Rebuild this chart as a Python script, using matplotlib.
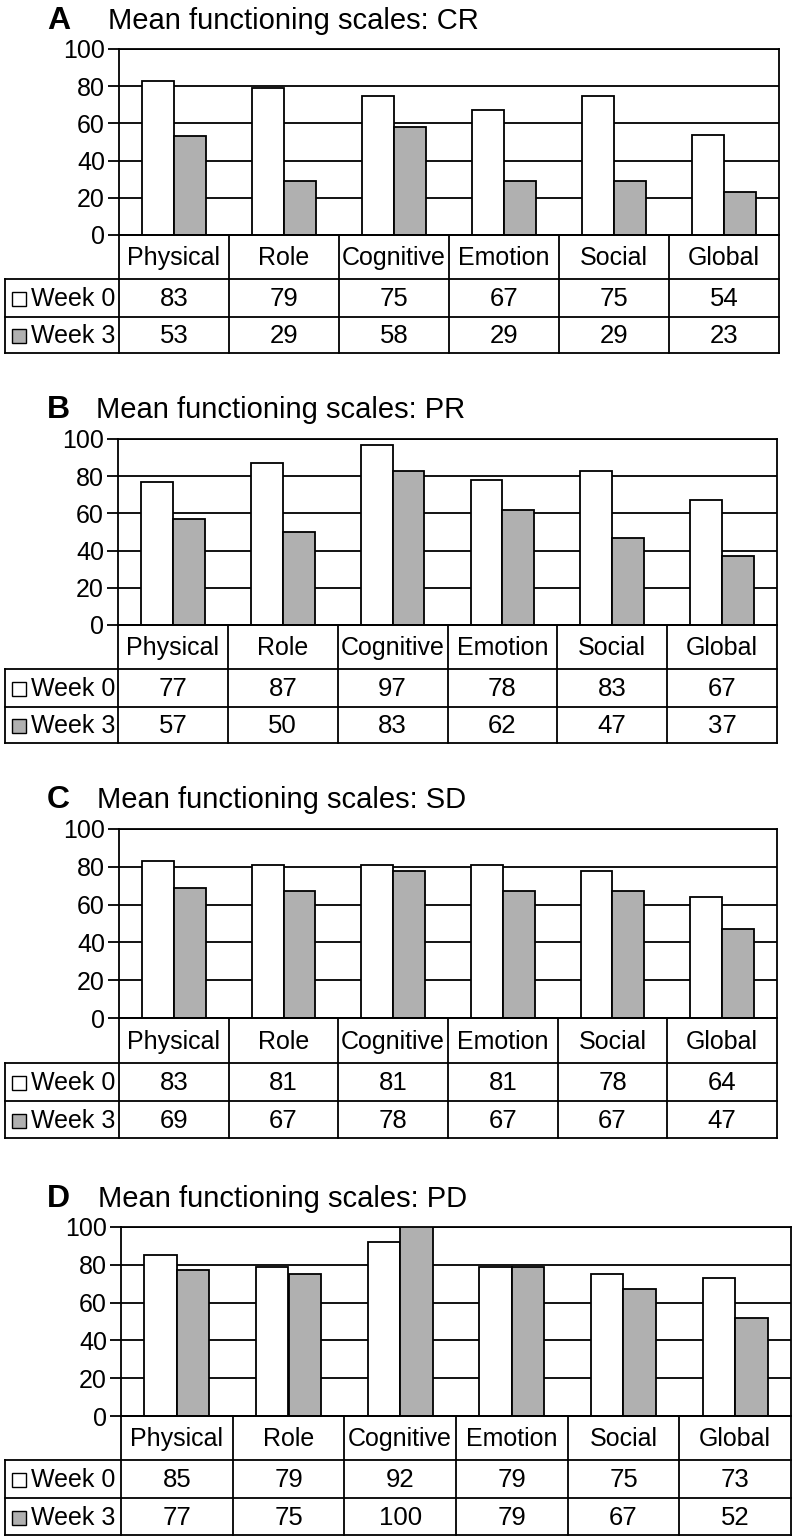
import matplotlib
matplotlib.use("Agg")
import matplotlib.pyplot as plt
import numpy as np
from matplotlib.patches import Rectangle

plt.rcParams['font.family'] = ['Liberation Sans', 'DejaVu Sans']

categories = ["Physical", "Role", "Cognitive", "Emotion", "Social", "Global"]
series_names = ["Week 0", "Week 3"]
panel_letters = ["A", "B", "C", "D"]
panel_titles = ["Mean functioning scales: CR", "Mean functioning scales: PR",
                "Mean functioning scales: SD", "Mean functioning scales: PD"]
cr_week0 = [83, 79, 75, 67, 75, 54]
cr_week3 = [53, 29, 58, 29, 29, 23]
pr_week0 = [77, 87, 97, 78, 83, 67]
pr_week3 = [57, 50, 83, 62, 47, 37]
sd_week0 = [83, 81, 81, 81, 78, 64]
sd_week3 = [69, 67, 78, 67, 67, 47]
pd_week0 = [85, 79, 92, 79, 75, 73]
pd_week3 = [77, 75, 100, 79, 67, 52]
yticks = [0, 20, 40, 60, 80, 100]

W, H = 794, 1539
fig = plt.figure(figsize=(W / 100, H / 100), dpi=100)

layouts = [
    dict(l=119, r=779, t=49, b=235, rows=[235, 279, 317, 353], ty=21, tx=108),
    dict(l=118, r=777, t=439, b=625, rows=[625, 669, 707, 743], ty=410, tx=96),
    dict(l=119, r=777, t=829, b=1018, rows=[1018, 1063, 1101, 1138], ty=800, tx=97),
    dict(l=121, r=791, t=1227, b=1416, rows=[1416, 1460, 1498, 1535], ty=1199, tx=98),
]
data = [(cr_week0, cr_week3), (pr_week0, pr_week3), (sd_week0, sd_week3), (pd_week0, pd_week3)]

LW = 1.3
GRAY = '#b0b0b0'
table_left = 5
TFS = 18

def fx(px):
    return px / W

def fy(py):
    return 1 - py / H

for k, (lay, (w0, w3)) in enumerate(zip(layouts, data)):
    l, r, t, b = lay['l'], lay['r'], lay['t'], lay['b']
    ax = fig.add_axes([fx(l), fy(b), fx(r - l), (b - t) / H])
    x = np.arange(len(categories))
    bw = 0.29
    ax.bar(x - bw / 2, w0, bw, color='white', edgecolor='black', linewidth=LW, zorder=3)
    ax.bar(x + bw / 2, w3, bw, color=GRAY, edgecolor='black', linewidth=LW, zorder=3)
    ax.set_xlim(-0.5, len(categories) - 0.5)
    ax.set_ylim(0, 100)
    ax.set_yticks(yticks)
    ax.set_yticklabels([str(v) for v in yticks], fontsize=18)
    ax.set_xticks([])
    ax.set_axisbelow(True)
    ax.yaxis.grid(True, color='black', linewidth=LW, zorder=0)
    ax.tick_params(axis='y', direction='out', length=8, width=LW, pad=2)
    for s in ax.spines.values():
        s.set_linewidth(LW)
        s.set_color('black')

    fig.text(fx(47), fy(lay['ty']), panel_letters[k], fontsize=23, fontweight='bold',
             va='center', ha='left')
    fig.text(fx(lay['tx']), fy(lay['ty']), panel_titles[k], fontsize=21,
             va='center', ha='left')

    rows = lay['rows']
    unit = (r - l) / len(categories)
    xleft = -0.5 - (l - table_left) / unit
    xright = len(categories) - 0.5
    tax = fig.add_axes([fx(table_left), fy(rows[-1]), fx(r - table_left), (rows[-1] - rows[0]) / H])
    tax.set_xlim(xleft, xright)
    tax.set_ylim(rows[-1], rows[0])
    tax.axis('off')
    kw = dict(color='black', linewidth=LW, clip_on=False, solid_capstyle='projecting')
    for i in range(len(categories) + 1):
        tax.plot([i - 0.5, i - 0.5], [rows[0], rows[-1]], **kw)
    tax.plot([xleft, xleft], [rows[1], rows[-1]], **kw)
    tax.plot([-0.5, xright], [rows[0], rows[0]], **kw)
    for yy in rows[1:]:
        tax.plot([xleft, xright], [yy, yy], **kw)
    hy = (rows[0] + rows[1]) / 2
    for i, c in enumerate(categories):
        tax.text(i, hy + 1, c, ha='center', va='center', fontsize=TFS)
    fills = ['white', GRAY]
    px_unit = 1 / unit
    for j, (name, vals) in enumerate(zip(series_names, [w0, w3])):
        cy = (rows[j + 1] + rows[j + 2]) / 2
        for i, v in enumerate(vals):
            tax.text(i, cy + 1, str(v), ha='center', va='center', fontsize=TFS + 0.5)
        sq = 14
        tax.add_patch(Rectangle((xleft + 7 * px_unit, cy - sq / 2 + 1), sq * px_unit, sq,
                                facecolor=fills[j], edgecolor='black', linewidth=1.0, clip_on=False))
        tax.text(xleft + 26 * px_unit, cy + 1, name, ha='left', va='center', fontsize=TFS)

fig.savefig("out.png", dpi=100)
